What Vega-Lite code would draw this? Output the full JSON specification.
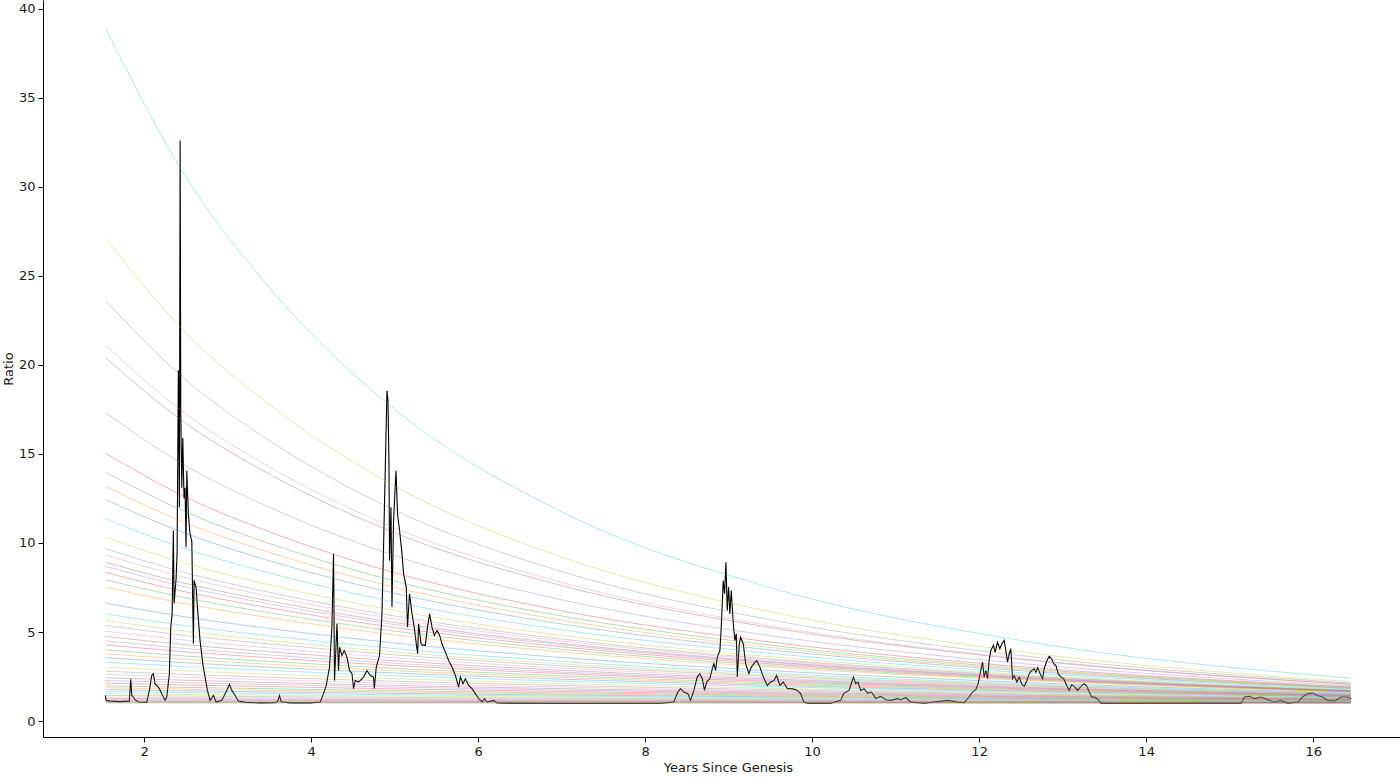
{
"$schema":"https://vega.github.io/schema/vega-lite/v6.json",
"width":1357,"height":737,
"autosize":{"type":"none"},
"padding":{"left":43,"top":0,"right":0,"bottom":45},
"background":"white",
"config":{"view":{"stroke":null},"font":"DejaVu Sans",
"axis":{"grid":false,"domainColor":"#000000","domainWidth":1,"tickColor":"#000000","tickSize":5,"tickWidth":1,"labelFontSize":13,"labelColor":"#1a1a1a","titleFontSize":13,"titleFontWeight":"normal","titleColor":"#1a1a1a","labelFont":"DejaVu Sans","titleFont":"DejaVu Sans"}},
"datasets":{
"price":[
{"t":1.536,"r":1.44},{"t":1.546,"r":1.16},{"t":1.592,"r":1.12},{"t":1.712,"r":1.09},{"t":1.824,"r":1.12},{"t":1.841,"r":2.34},{"t":1.853,"r":1.44},{"t":1.872,"r":1.35},{"t":1.892,"r":1.2},{"t":1.932,"r":1.07},{"t":2.032,"r":1.05},{"t":2.064,"r":1.72},{"t":2.092,"r":2.56},{"t":2.111,"r":2.66},{"t":2.132,"r":2.1},{"t":2.152,"r":2.0},{"t":2.183,"r":1.82},{"t":2.212,"r":1.54},{"t":2.231,"r":1.35},{"t":2.252,"r":1.16},{"t":2.272,"r":1.35},{"t":2.303,"r":2.66},{"t":2.32,"r":5.27},{"t":2.336,"r":6.02},{"t":2.351,"r":10.7},{"t":2.36,"r":6.6},{"t":2.384,"r":8.0},{"t":2.396,"r":9.5},{"t":2.411,"r":19.7},{"t":2.423,"r":12.0},{"t":2.432,"r":32.6},{"t":2.44,"r":17.2},{"t":2.452,"r":13.1},{"t":2.464,"r":15.9},{"t":2.479,"r":12.5},{"t":2.491,"r":13.1},{"t":2.503,"r":9.76},{"t":2.512,"r":14.06},{"t":2.531,"r":11.6},{"t":2.551,"r":10.5},{"t":2.572,"r":10.1},{"t":2.591,"r":4.34},{"t":2.599,"r":7.9},{"t":2.623,"r":7.5},{"t":2.639,"r":6.4},{"t":2.671,"r":4.5},{"t":2.704,"r":3.2},{"t":2.731,"r":2.47},{"t":2.759,"r":1.72},{"t":2.791,"r":1.16},{"t":2.831,"r":1.44},{"t":2.863,"r":1.07},{"t":2.931,"r":1.16},{"t":2.991,"r":1.72},{"t":3.022,"r":2.06},{"t":3.051,"r":1.72},{"t":3.091,"r":1.44},{"t":3.13,"r":1.12},{"t":3.211,"r":1.05},{"t":3.39,"r":1.02},{"t":3.57,"r":1.03},{"t":3.6,"r":1.1},{"t":3.622,"r":1.44},{"t":3.642,"r":1.08},{"t":3.75,"r":1.02},{"t":3.99,"r":1.02},{"t":4.11,"r":1.07},{"t":4.149,"r":1.54},{"t":4.182,"r":2.0},{"t":4.221,"r":3.03},{"t":4.25,"r":5.27},{"t":4.269,"r":9.39},{"t":4.281,"r":2.28},{"t":4.31,"r":5.46},{"t":4.329,"r":2.84},{"t":4.341,"r":4.15},{"t":4.37,"r":3.68},{"t":4.397,"r":3.96},{"t":4.43,"r":3.59},{"t":4.461,"r":2.84},{"t":4.49,"r":2.66},{"t":4.509,"r":1.82},{"t":4.529,"r":2.28},{"t":4.569,"r":2.19},{"t":4.629,"r":2.47},{"t":4.669,"r":2.84},{"t":4.709,"r":2.56},{"t":4.748,"r":2.47},{"t":4.757,"r":1.82},{"t":4.781,"r":3.03},{"t":4.82,"r":3.68},{"t":4.849,"r":6.02},{"t":4.868,"r":9.76},{"t":4.889,"r":14.25},{"t":4.909,"r":18.55},{"t":4.921,"r":18.0},{"t":4.933,"r":14.4},{"t":4.94,"r":9.0},{"t":4.957,"r":12.0},{"t":4.969,"r":6.4},{"t":4.988,"r":11.26},{"t":5.017,"r":14.06},{"t":5.036,"r":11.6},{"t":5.06,"r":10.7},{"t":5.089,"r":9.39},{"t":5.108,"r":8.27},{"t":5.14,"r":7.52},{"t":5.155,"r":5.27},{"t":5.179,"r":7.15},{"t":5.209,"r":6.02},{"t":5.236,"r":5.27},{"t":5.26,"r":4.34},{"t":5.276,"r":3.78},{"t":5.288,"r":5.46},{"t":5.317,"r":4.34},{"t":5.341,"r":4.25},{"t":5.368,"r":4.25},{"t":5.389,"r":5.09},{"t":5.42,"r":6.02},{"t":5.448,"r":5.27},{"t":5.476,"r":4.81},{"t":5.508,"r":5.09},{"t":5.54,"r":4.81},{"t":5.568,"r":4.34},{"t":5.608,"r":3.87},{"t":5.647,"r":3.4},{"t":5.688,"r":3.03},{"t":5.728,"r":2.56},{"t":5.767,"r":1.91},{"t":5.788,"r":2.47},{"t":5.82,"r":2.1},{"t":5.848,"r":2.38},{"t":5.887,"r":2.0},{"t":5.928,"r":1.82},{"t":5.967,"r":1.54},{"t":6.007,"r":1.26},{"t":6.048,"r":1.07},{"t":6.075,"r":1.26},{"t":6.108,"r":1.07},{"t":6.187,"r":1.16},{"t":6.228,"r":1.01},{"t":6.867,"r":1.0},{"t":7.466,"r":1.0},{"t":8.185,"r":1.0},{"t":8.344,"r":1.07},{"t":8.392,"r":1.63},{"t":8.424,"r":1.82},{"t":8.464,"r":1.63},{"t":8.512,"r":1.54},{"t":8.544,"r":1.16},{"t":8.584,"r":1.72},{"t":8.624,"r":2.47},{"t":8.655,"r":2.66},{"t":8.685,"r":2.38},{"t":8.712,"r":1.72},{"t":8.736,"r":2.19},{"t":8.776,"r":2.38},{"t":8.805,"r":2.94},{"t":8.824,"r":3.22},{"t":8.844,"r":2.84},{"t":8.864,"r":3.59},{"t":8.896,"r":3.96},{"t":8.912,"r":5.27},{"t":8.936,"r":7.89},{"t":8.952,"r":7.15},{"t":8.968,"r":8.92},{"t":8.984,"r":6.21},{"t":9.0,"r":7.52},{"t":9.015,"r":6.02},{"t":9.032,"r":7.33},{"t":9.056,"r":5.46},{"t":9.075,"r":4.53},{"t":9.092,"r":4.9},{"t":9.104,"r":2.47},{"t":9.128,"r":4.34},{"t":9.144,"r":4.71},{"t":9.176,"r":4.34},{"t":9.204,"r":3.22},{"t":9.243,"r":2.66},{"t":9.272,"r":3.03},{"t":9.303,"r":3.22},{"t":9.336,"r":3.4},{"t":9.375,"r":3.03},{"t":9.416,"r":2.47},{"t":9.464,"r":2.0},{"t":9.503,"r":2.19},{"t":9.543,"r":2.28},{"t":9.575,"r":2.56},{"t":9.615,"r":2.0},{"t":9.655,"r":2.19},{"t":9.703,"r":1.82},{"t":9.763,"r":1.82},{"t":9.823,"r":1.72},{"t":9.863,"r":1.54},{"t":9.902,"r":1.07},{"t":9.943,"r":1.0},{"t":10.222,"r":1.0},{"t":10.342,"r":1.16},{"t":10.382,"r":1.57},{"t":10.442,"r":1.72},{"t":10.495,"r":2.47},{"t":10.522,"r":2.1},{"t":10.55,"r":2.19},{"t":10.582,"r":1.72},{"t":10.622,"r":1.82},{"t":10.663,"r":1.57},{"t":10.711,"r":1.63},{"t":10.762,"r":1.26},{"t":10.822,"r":1.39},{"t":10.882,"r":1.2},{"t":10.942,"r":1.16},{"t":11.022,"r":1.26},{"t":11.062,"r":1.2},{"t":11.122,"r":1.31},{"t":11.182,"r":1.07},{"t":11.341,"r":1.0},{"t":11.461,"r":1.07},{"t":11.621,"r":1.16},{"t":11.741,"r":1.07},{"t":11.82,"r":1.03},{"t":11.88,"r":1.35},{"t":11.921,"r":1.63},{"t":11.96,"r":1.76},{"t":11.988,"r":2.1},{"t":12.02,"r":2.84},{"t":12.041,"r":3.31},{"t":12.06,"r":2.47},{"t":12.08,"r":2.84},{"t":12.101,"r":2.38},{"t":12.12,"r":3.4},{"t":12.14,"r":3.96},{"t":12.172,"r":4.25},{"t":12.192,"r":3.87},{"t":12.22,"r":4.43},{"t":12.248,"r":4.06},{"t":12.272,"r":4.34},{"t":12.3,"r":4.53},{"t":12.32,"r":3.96},{"t":12.34,"r":3.31},{"t":12.36,"r":3.78},{"t":12.38,"r":4.06},{"t":12.4,"r":2.38},{"t":12.42,"r":2.56},{"t":12.452,"r":2.19},{"t":12.48,"r":2.47},{"t":12.508,"r":2.1},{"t":12.54,"r":1.95},{"t":12.572,"r":2.28},{"t":12.6,"r":2.66},{"t":12.628,"r":2.84},{"t":12.66,"r":2.94},{"t":12.68,"r":2.75},{"t":12.7,"r":3.0},{"t":12.731,"r":2.66},{"t":12.76,"r":2.38},{"t":12.779,"r":2.94},{"t":12.812,"r":3.4},{"t":12.839,"r":3.63},{"t":12.868,"r":3.5},{"t":12.892,"r":3.22},{"t":12.92,"r":3.12},{"t":12.947,"r":2.66},{"t":12.98,"r":2.47},{"t":13.012,"r":2.38},{"t":13.04,"r":2.1},{"t":13.079,"r":1.72},{"t":13.108,"r":2.04},{"t":13.139,"r":1.95},{"t":13.18,"r":1.72},{"t":13.219,"r":1.95},{"t":13.259,"r":2.1},{"t":13.291,"r":1.95},{"t":13.319,"r":1.63},{"t":13.348,"r":1.35},{"t":13.379,"r":1.35},{"t":13.427,"r":1.2},{"t":13.459,"r":1.0},{"t":14.3,"r":1.0},{"t":15.137,"r":1.0},{"t":15.177,"r":1.35},{"t":15.237,"r":1.39},{"t":15.296,"r":1.26},{"t":15.376,"r":1.35},{"t":15.457,"r":1.2},{"t":15.536,"r":1.07},{"t":15.616,"r":1.16},{"t":15.696,"r":1.0},{"t":15.816,"r":1.07},{"t":15.872,"r":1.35},{"t":15.935,"r":1.54},{"t":15.995,"r":1.57},{"t":16.054,"r":1.44},{"t":16.114,"r":1.35},{"t":16.174,"r":1.16},{"t":16.254,"r":1.12},{"t":16.334,"r":1.35},{"t":16.394,"r":1.35},{"t":16.456,"r":1.26}
],
"bands":[
{"k":"c49","t":1.54,"r":38.9},{"k":"c49","t":2.5,"r":30.55},{"k":"c49","t":3.5,"r":24.34},{"k":"c49","t":5,"r":17.51},{"k":"c49","t":7,"r":11.75},{"k":"c49","t":9.5,"r":7.49},{"k":"c49","t":12.5,"r":4.519},{"k":"c49","t":16.45,"r":2.407},
{"k":"c48","t":1.54,"r":27.1},{"k":"c48","t":2.5,"r":21.8},{"k":"c48","t":3.5,"r":17.77},{"k":"c48","t":5,"r":13.2},{"k":"c48","t":7,"r":9.213},{"k":"c48","t":9.5,"r":6.139},{"k":"c48","t":12.5,"r":3.893},{"k":"c48","t":16.45,"r":2.208},
{"k":"c47","t":1.54,"r":23.6},{"k":"c47","t":2.5,"r":19.16},{"k":"c47","t":3.5,"r":15.75},{"k":"c47","t":5,"r":11.85},{"k":"c47","t":7,"r":8.394},{"k":"c47","t":9.5,"r":5.69},{"k":"c47","t":12.5,"r":3.678},{"k":"c47","t":16.45,"r":2.135},
{"k":"c46","t":1.54,"r":21.1},{"k":"c46","t":2.5,"r":17.25},{"k":"c46","t":3.5,"r":14.28},{"k":"c46","t":5,"r":10.85},{"k":"c46","t":7,"r":7.785},{"k":"c46","t":9.5,"r":5.35},{"k":"c46","t":12.5,"r":3.512},{"k":"c46","t":16.45,"r":2.079},
{"k":"c45","t":1.54,"r":20.4},{"k":"c45","t":2.5,"r":16.72},{"k":"c45","t":3.5,"r":13.87},{"k":"c45","t":5,"r":10.57},{"k":"c45","t":7,"r":7.609},{"k":"c45","t":9.5,"r":5.251},{"k":"c45","t":12.5,"r":3.464},{"k":"c45","t":16.45,"r":2.062},
{"k":"c44","t":1.54,"r":17.3},{"k":"c44","t":2.5,"r":14.33},{"k":"c44","t":3.5,"r":12.01},{"k":"c44","t":5,"r":9.292},{"k":"c44","t":7,"r":6.811},{"k":"c44","t":9.5,"r":4.797},{"k":"c44","t":12.5,"r":3.237},{"k":"c44","t":16.45,"r":1.982},
{"k":"c43","t":1.54,"r":15.03},{"k":"c43","t":2.5,"r":12.57},{"k":"c43","t":3.5,"r":10.63},{"k":"c43","t":5,"r":8.325},{"k":"c43","t":7,"r":6.196},{"k":"c43","t":9.5,"r":4.44},{"k":"c43","t":12.5,"r":3.054},{"k":"c43","t":16.45,"r":1.916},
{"k":"c42","t":1.54,"r":13.97},{"k":"c42","t":2.5,"r":11.74},{"k":"c42","t":3.5,"r":9.968},{"k":"c42","t":5,"r":7.863},{"k":"c42","t":7,"r":5.898},{"k":"c42","t":9.5,"r":4.264},{"k":"c42","t":12.5,"r":2.964},{"k":"c42","t":16.45,"r":1.883},
{"k":"c41","t":1.54,"r":13.18},{"k":"c41","t":2.5,"r":11.12},{"k":"c41","t":3.5,"r":9.474},{"k":"c41","t":5,"r":7.512},{"k":"c41","t":7,"r":5.672},{"k":"c41","t":9.5,"r":4.13},{"k":"c41","t":12.5,"r":2.893},{"k":"c41","t":16.45,"r":1.857},
{"k":"c40","t":1.54,"r":12.43},{"k":"c40","t":2.5,"r":10.53},{"k":"c40","t":3.5,"r":9.002},{"k":"c40","t":5,"r":7.176},{"k":"c40","t":7,"r":5.452},{"k":"c40","t":9.5,"r":3.999},{"k":"c40","t":12.5,"r":2.825},{"k":"c40","t":16.45,"r":1.831},
{"k":"c39","t":1.54,"r":11.35},{"k":"c39","t":2.5,"r":9.669},{"k":"c39","t":3.5,"r":8.317},{"k":"c39","t":5,"r":6.683},{"k":"c39","t":7,"r":5.129},{"k":"c39","t":9.5,"r":3.804},{"k":"c39","t":12.5,"r":2.721},{"k":"c39","t":16.45,"r":1.791},
{"k":"c38","t":1.54,"r":10.32},{"k":"c38","t":2.5,"r":8.846},{"k":"c38","t":3.5,"r":7.654},{"k":"c38","t":5,"r":6.204},{"k":"c38","t":7,"r":4.81},{"k":"c38","t":9.5,"r":3.61},{"k":"c38","t":12.5,"r":2.616},{"k":"c38","t":16.45,"r":1.751},
{"k":"c37","t":1.54,"r":9.67},{"k":"c37","t":2.5,"r":8.324},{"k":"c37","t":3.5,"r":7.232},{"k":"c37","t":5,"r":5.897},{"k":"c37","t":7,"r":4.604},{"k":"c37","t":9.5,"r":3.483},{"k":"c37","t":12.5,"r":2.547},{"k":"c37","t":16.45,"r":1.724},
{"k":"c36","t":1.54,"r":9.33},{"k":"c36","t":2.5,"r":8.051},{"k":"c36","t":3.5,"r":7.01},{"k":"c36","t":5,"r":5.734},{"k":"c36","t":7,"r":4.495},{"k":"c36","t":9.5,"r":3.415},{"k":"c36","t":12.5,"r":2.51},{"k":"c36","t":16.45,"r":1.709},
{"k":"c35","t":1.54,"r":8.92},{"k":"c35","t":2.5,"r":7.721},{"k":"c35","t":3.5,"r":6.741},{"k":"c35","t":5,"r":5.536},{"k":"c35","t":7,"r":4.361},{"k":"c35","t":9.5,"r":3.332},{"k":"c35","t":12.5,"r":2.464},{"k":"c35","t":16.45,"r":1.691},
{"k":"c34","t":1.54,"r":8.68},{"k":"c34","t":2.5,"r":7.526},{"k":"c34","t":3.5,"r":6.582},{"k":"c34","t":5,"r":5.419},{"k":"c34","t":7,"r":4.282},{"k":"c34","t":9.5,"r":3.283},{"k":"c34","t":12.5,"r":2.436},{"k":"c34","t":16.45,"r":1.68},
{"k":"c33","t":1.54,"r":8.34},{"k":"c33","t":2.5,"r":7.251},{"k":"c33","t":3.5,"r":6.357},{"k":"c33","t":5,"r":5.252},{"k":"c33","t":7,"r":4.168},{"k":"c33","t":9.5,"r":3.211},{"k":"c33","t":12.5,"r":2.396},{"k":"c33","t":16.45,"r":1.664},
{"k":"c32","t":1.54,"r":7.93},{"k":"c32","t":2.5,"r":6.917},{"k":"c32","t":3.5,"r":6.084},{"k":"c32","t":5,"r":5.05},{"k":"c32","t":7,"r":4.029},{"k":"c32","t":9.5,"r":3.123},{"k":"c32","t":12.5,"r":2.347},{"k":"c32","t":16.45,"r":1.644},
{"k":"c31","t":1.54,"r":7.52},{"k":"c31","t":2.5,"r":6.582},{"k":"c31","t":3.5,"r":5.808},{"k":"c31","t":5,"r":4.844},{"k":"c31","t":7,"r":3.887},{"k":"c31","t":9.5,"r":3.034},{"k":"c31","t":12.5,"r":2.296},{"k":"c31","t":16.45,"r":1.623},
{"k":"c30","t":1.54,"r":6.62},{"k":"c30","t":2.5,"r":5.844},{"k":"c30","t":3.5,"r":5.198},{"k":"c30","t":5,"r":4.385},{"k":"c30","t":7,"r":3.568},{"k":"c30","t":9.5,"r":2.828},{"k":"c30","t":12.5,"r":2.179},{"k":"c30","t":16.45,"r":1.574},
{"k":"c29","t":1.54,"r":6.02},{"k":"c29","t":2.5,"r":5.348},{"k":"c29","t":3.5,"r":4.784},{"k":"c29","t":5,"r":4.071},{"k":"c29","t":7,"r":3.347},{"k":"c29","t":9.5,"r":2.684},{"k":"c29","t":12.5,"r":2.095},{"k":"c29","t":16.45,"r":1.539},
{"k":"c28","t":1.54,"r":5.65},{"k":"c28","t":2.5,"r":5.04},{"k":"c28","t":3.5,"r":4.527},{"k":"c28","t":5,"r":3.873},{"k":"c28","t":7,"r":3.207},{"k":"c28","t":9.5,"r":2.592},{"k":"c28","t":12.5,"r":2.041},{"k":"c28","t":16.45,"r":1.515},
{"k":"c27","t":1.54,"r":5.37},{"k":"c27","t":2.5,"r":4.806},{"k":"c27","t":3.5,"r":4.331},{"k":"c27","t":5,"r":3.723},{"k":"c27","t":7,"r":3.1},{"k":"c27","t":9.5,"r":2.52},{"k":"c27","t":12.5,"r":1.999},{"k":"c27","t":16.45,"r":1.497},
{"k":"c26","t":1.54,"r":5.05},{"k":"c26","t":2.5,"r":4.538},{"k":"c26","t":3.5,"r":4.105},{"k":"c26","t":5,"r":3.548},{"k":"c26","t":7,"r":2.974},{"k":"c26","t":9.5,"r":2.437},{"k":"c26","t":12.5,"r":1.949},{"k":"c26","t":16.45,"r":1.475},
{"k":"c25","t":1.54,"r":4.75},{"k":"c25","t":2.5,"r":4.286},{"k":"c25","t":3.5,"r":3.891},{"k":"c25","t":5,"r":3.382},{"k":"c25","t":7,"r":2.854},{"k":"c25","t":9.5,"r":2.356},{"k":"c25","t":12.5,"r":1.9},{"k":"c25","t":16.45,"r":1.453},
{"k":"c24","t":1.54,"r":4.5},{"k":"c24","t":2.5,"r":4.075},{"k":"c24","t":3.5,"r":3.712},{"k":"c24","t":5,"r":3.242},{"k":"c24","t":7,"r":2.752},{"k":"c24","t":9.5,"r":2.287},{"k":"c24","t":12.5,"r":1.858},{"k":"c24","t":16.45,"r":1.435},
{"k":"c23","t":1.54,"r":4.28},{"k":"c23","t":2.5,"r":3.888},{"k":"c23","t":3.5,"r":3.553},{"k":"c23","t":5,"r":3.118},{"k":"c23","t":7,"r":2.661},{"k":"c23","t":9.5,"r":2.225},{"k":"c23","t":12.5,"r":1.82},{"k":"c23","t":16.45,"r":1.418},
{"k":"c22","t":1.54,"r":4.0},{"k":"c22","t":2.5,"r":3.65},{"k":"c22","t":3.5,"r":3.35},{"k":"c22","t":5,"r":2.957},{"k":"c22","t":7,"r":2.542},{"k":"c22","t":9.5,"r":2.144},{"k":"c22","t":12.5,"r":1.77},{"k":"c22","t":16.45,"r":1.395},
{"k":"c21","t":1.54,"r":3.78},{"k":"c21","t":2.5,"r":3.462},{"k":"c21","t":3.5,"r":3.188},{"k":"c21","t":5,"r":2.829},{"k":"c21","t":7,"r":2.447},{"k":"c21","t":9.5,"r":2.078},{"k":"c21","t":12.5,"r":1.73},{"k":"c21","t":16.45,"r":1.376},
{"k":"c20","t":1.54,"r":3.56},{"k":"c20","t":2.5,"r":3.274},{"k":"c20","t":3.5,"r":3.026},{"k":"c20","t":5,"r":2.699},{"k":"c20","t":7,"r":2.35},{"k":"c20","t":9.5,"r":2.011},{"k":"c20","t":12.5,"r":1.687},{"k":"c20","t":16.45,"r":1.356},
{"k":"c19","t":1.54,"r":3.31},{"k":"c19","t":2.5,"r":3.059},{"k":"c19","t":3.5,"r":2.84},{"k":"c19","t":5,"r":2.55},{"k":"c19","t":7,"r":2.238},{"k":"c19","t":9.5,"r":1.932},{"k":"c19","t":12.5,"r":1.637},{"k":"c19","t":16.45,"r":1.333},
{"k":"c18","t":1.54,"r":3.03},{"k":"c18","t":2.5,"r":2.816},{"k":"c18","t":3.5,"r":2.629},{"k":"c18","t":5,"r":2.379},{"k":"c18","t":7,"r":2.109},{"k":"c18","t":9.5,"r":1.84},{"k":"c18","t":12.5,"r":1.579},{"k":"c18","t":16.45,"r":1.305},
{"k":"c17","t":1.54,"r":2.8},{"k":"c17","t":2.5,"r":2.616},{"k":"c17","t":3.5,"r":2.454},{"k":"c17","t":5,"r":2.237},{"k":"c17","t":7,"r":2.0},{"k":"c17","t":9.5,"r":1.762},{"k":"c17","t":12.5,"r":1.528},{"k":"c17","t":16.45,"r":1.28},
{"k":"c16","t":1.54,"r":2.62},{"k":"c16","t":2.5,"r":2.459},{"k":"c16","t":3.5,"r":2.316},{"k":"c16","t":5,"r":2.124},{"k":"c16","t":7,"r":1.912},{"k":"c16","t":9.5,"r":1.699},{"k":"c16","t":12.5,"r":1.487},{"k":"c16","t":16.45,"r":1.26},
{"k":"c15","t":1.54,"r":2.43},{"k":"c15","t":2.5,"r":2.292},{"k":"c15","t":3.5,"r":2.169},{"k":"c15","t":5,"r":2.002},{"k":"c15","t":7,"r":1.818},{"k":"c15","t":9.5,"r":1.63},{"k":"c15","t":12.5,"r":1.442},{"k":"c15","t":16.45,"r":1.238},
{"k":"c14","t":1.54,"r":2.28},{"k":"c14","t":2.5,"r":2.159},{"k":"c14","t":3.5,"r":2.052},{"k":"c14","t":5,"r":1.905},{"k":"c14","t":7,"r":1.742},{"k":"c14","t":9.5,"r":1.574},{"k":"c14","t":12.5,"r":1.404},{"k":"c14","t":16.45,"r":1.219},
{"k":"c13","t":1.54,"r":2.13},{"k":"c13","t":2.5,"r":2.026},{"k":"c13","t":3.5,"r":1.933},{"k":"c13","t":5,"r":1.806},{"k":"c13","t":7,"r":1.664},{"k":"c13","t":9.5,"r":1.516},{"k":"c13","t":12.5,"r":1.365},{"k":"c13","t":16.45,"r":1.199},
{"k":"c12","t":1.54,"r":1.98},{"k":"c12","t":2.5,"r":1.893},{"k":"c12","t":3.5,"r":1.814},{"k":"c12","t":5,"r":1.706},{"k":"c12","t":7,"r":1.584},{"k":"c12","t":9.5,"r":1.456},{"k":"c12","t":12.5,"r":1.325},{"k":"c12","t":16.45,"r":1.178},
{"k":"c11","t":1.54,"r":1.87},{"k":"c11","t":2.5,"r":1.794},{"k":"c11","t":3.5,"r":1.726},{"k":"c11","t":5,"r":1.632},{"k":"c11","t":7,"r":1.524},{"k":"c11","t":9.5,"r":1.411},{"k":"c11","t":12.5,"r":1.294},{"k":"c11","t":16.45,"r":1.162},
{"k":"c10","t":1.54,"r":1.76},{"k":"c10","t":2.5,"r":1.696},{"k":"c10","t":3.5,"r":1.637},{"k":"c10","t":5,"r":1.556},{"k":"c10","t":7,"r":1.463},{"k":"c10","t":9.5,"r":1.365},{"k":"c10","t":12.5,"r":1.262},{"k":"c10","t":16.45,"r":1.145},
{"k":"c09","t":1.54,"r":1.65},{"k":"c09","t":2.5,"r":1.596},{"k":"c09","t":3.5,"r":1.548},{"k":"c09","t":5,"r":1.479},{"k":"c09","t":7,"r":1.401},{"k":"c09","t":9.5,"r":1.317},{"k":"c09","t":12.5,"r":1.229},{"k":"c09","t":16.45,"r":1.128},
{"k":"c08","t":1.54,"r":1.54},{"k":"c08","t":2.5,"r":1.497},{"k":"c08","t":3.5,"r":1.457},{"k":"c08","t":5,"r":1.402},{"k":"c08","t":7,"r":1.337},{"k":"c08","t":9.5,"r":1.268},{"k":"c08","t":12.5,"r":1.195},{"k":"c08","t":16.45,"r":1.109},
{"k":"c07","t":1.54,"r":1.44},{"k":"c07","t":2.5,"r":1.406},{"k":"c07","t":3.5,"r":1.374},{"k":"c07","t":5,"r":1.33},{"k":"c07","t":7,"r":1.278},{"k":"c07","t":9.5,"r":1.222},{"k":"c07","t":12.5,"r":1.162},{"k":"c07","t":16.45,"r":1.091},
{"k":"c06","t":1.54,"r":1.35},{"k":"c06","t":2.5,"r":1.324},{"k":"c06","t":3.5,"r":1.299},{"k":"c06","t":5,"r":1.265},{"k":"c06","t":7,"r":1.224},{"k":"c06","t":9.5,"r":1.18},{"k":"c06","t":12.5,"r":1.132},{"k":"c06","t":16.45,"r":1.075},
{"k":"c05","t":1.54,"r":1.27},{"k":"c05","t":2.5,"r":1.25},{"k":"c05","t":3.5,"r":1.232},{"k":"c05","t":5,"r":1.206},{"k":"c05","t":7,"r":1.175},{"k":"c05","t":9.5,"r":1.141},{"k":"c05","t":12.5,"r":1.104},{"k":"c05","t":16.45,"r":1.059},
{"k":"c04","t":1.54,"r":1.2},{"k":"c04","t":2.5,"r":1.186},{"k":"c04","t":3.5,"r":1.172},{"k":"c04","t":5,"r":1.153},{"k":"c04","t":7,"r":1.131},{"k":"c04","t":9.5,"r":1.106},{"k":"c04","t":12.5,"r":1.078},{"k":"c04","t":16.45,"r":1.045},
{"k":"c03","t":1.54,"r":1.14},{"k":"c03","t":2.5,"r":1.13},{"k":"c03","t":3.5,"r":1.121},{"k":"c03","t":5,"r":1.108},{"k":"c03","t":7,"r":1.092},{"k":"c03","t":9.5,"r":1.075},{"k":"c03","t":12.5,"r":1.056},{"k":"c03","t":16.45,"r":1.032},
{"k":"c02","t":1.54,"r":1.09},{"k":"c02","t":2.5,"r":1.084},{"k":"c02","t":3.5,"r":1.078},{"k":"c02","t":5,"r":1.07},{"k":"c02","t":7,"r":1.06},{"k":"c02","t":9.5,"r":1.049},{"k":"c02","t":12.5,"r":1.036},{"k":"c02","t":16.45,"r":1.021},
{"k":"c01","t":1.54,"r":1.05},{"k":"c01","t":2.5,"r":1.047},{"k":"c01","t":3.5,"r":1.044},{"k":"c01","t":5,"r":1.039},{"k":"c01","t":7,"r":1.033},{"k":"c01","t":9.5,"r":1.027},{"k":"c01","t":12.5,"r":1.02},{"k":"c01","t":16.45,"r":1.012},
{"k":"c00","t":1.54,"r":1.02},{"k":"c00","t":2.5,"r":1.019},{"k":"c00","t":3.5,"r":1.017},{"k":"c00","t":5,"r":1.016},{"k":"c00","t":7,"r":1.013},{"k":"c00","t":9.5,"r":1.011},{"k":"c00","t":12.5,"r":1.008},{"k":"c00","t":16.45,"r":1.005}
]},
"encoding":{
"x":{"field":"t","type":"quantitative","scale":{"domain":[0.79,17.04],"nice":false,"zero":false},"axis":{"values":[2,4,6,8,10,12,14,16],"title":"Years Since Genesis","labelPadding":3,"titlePadding":3,"titleX":685}},
"y":{"field":"r","type":"quantitative","scale":{"domain":[-0.895,40.49],"nice":false,"zero":false},"axis":{"values":[0,5,10,15,20,25,30,35,40],"title":"Ratio","labelPadding":3,"titlePadding":3}}
},
"layer":[
{"data":{"name":"price"},"mark":{"type":"line","color":"#000000","strokeWidth":1.1,"clip":true},"encoding":{"order":{"field":"t","type":"quantitative"}}},
{"data":{"name":"bands"},"mark":{"type":"line","strokeWidth":1,"opacity":0.35,"interpolate":"monotone","clip":true},"encoding":{"color":{"field":"k","type":"nominal","legend":null,"scale":{"range":["#1f77b4","#ff7f0e","#2ca02c","#d62728","#9467bd","#8c564b","#e377c2","#7f7f7f","#bcbd22","#17becf"]}}}}
]
}
